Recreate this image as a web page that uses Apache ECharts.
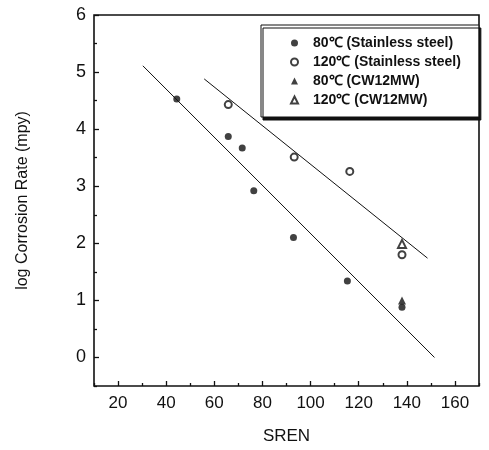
<!DOCTYPE html>
<html>
<head>
<meta charset="utf-8">
<script src="https://cdn.jsdelivr.net/npm/echarts@6/dist/echarts.min.js"></script>
<style>
  html, body { margin: 0; padding: 0; background: #fff; }
  #chart { width: 489px; height: 450px; }
</style>
</head>
<body>
<div id="chart"></div>
<script>
// Measured corrosion rates versus SREN, [SREN, log rate]
const ss80 = [[44.4, 4.53], [65.8, 3.87], [71.6, 3.67], [76.4, 2.92], [92.9, 2.10], [115.3, 1.34], [138, 0.88]];
const ss120 = [[65.8, 4.43], [93.2, 3.51], [116.3, 3.26], [138, 1.80]];
const cw80 = [[138, 1.0]];
const cw120 = [[138, 1.99]];

// Trend lines drawn through each temperature group
const fit80 = [[30.3, 5.11], [151.5, 0.0]];
const fit120 = [[55.8, 4.88], [148.6, 1.74]];

const seriesNames = ['80℃ (Stainless steel)', '120℃ (Stainless steel)', '80℃ (CW12MW)', '120℃ (CW12MW)'];

// Tick positions
const xMajor = [20, 40, 60, 80, 100, 120, 140, 160];
const xMinor = [10, 30, 50, 70, 90, 110, 130, 150, 170];
const yMajor = [0, 1, 2, 3, 4, 5, 6];
const yMinor = [-0.5, 0.5, 1.5, 2.5, 3.5, 4.5, 5.5];

const FONT = 'Liberation Sans, Arial, sans-serif';
const INK = '#111';

const chart = echarts.init(document.getElementById('chart'), null, { renderer: 'canvas' });

const xBase = { type: 'value', min: 10, max: 170, gridIndex: 0, splitLine: { show: false }, axisLine: { show: false, onZero: false } };
const yBase = { type: 'value', min: -0.5, max: 6, gridIndex: 0, splitLine: { show: false }, axisLine: { show: false, onZero: false } };

chart.setOption({
  animation: false,
  backgroundColor: '#fff',
  grid: {
    left: 94, right: 10, top: 15, bottom: 59,
    show: true, borderColor: INK, borderWidth: 1.6, backgroundColor: 'transparent'
  },
  xAxis: [
    Object.assign({}, xBase, {
      position: 'bottom',
      name: 'SREN', nameLocation: 'middle', nameGap: 42,
      nameTextStyle: { fontFamily: FONT, fontSize: 17, color: INK },
      axisTick: { show: true, inside: true, length: 5, customValues: xMajor, lineStyle: { color: INK, width: 1.3 } },
      axisLabel: { show: true, customValues: xMajor, margin: 9, fontFamily: FONT, fontSize: 17, color: INK }
    }),
    Object.assign({}, xBase, {
      position: 'bottom',
      axisTick: { show: true, inside: true, length: 3, customValues: xMinor, lineStyle: { color: INK, width: 1.3 } },
      axisLabel: { show: false }
    })
  ],
  yAxis: [
    Object.assign({}, yBase, {
      position: 'left',
      name: 'log Corrosion Rate (mpy)', nameLocation: 'middle', nameGap: 63,
      nameTextStyle: { fontFamily: FONT, fontSize: 16, color: INK },
      axisTick: { show: true, inside: true, length: 5, customValues: yMajor, lineStyle: { color: INK, width: 1.3 } },
      axisLabel: { show: true, customValues: yMajor, margin: 8, fontFamily: FONT, fontSize: 18, color: INK }
    }),
    Object.assign({}, yBase, {
      position: 'left',
      axisTick: { show: true, inside: true, length: 3, customValues: yMinor, lineStyle: { color: INK, width: 1.3 } },
      axisLabel: { show: false }
    })
  ],
  legend: {
    orient: 'vertical',
    left: 261, top: 25,
    data: seriesNames,
    itemWidth: 7, itemHeight: 7, itemGap: 5,
    padding: [11, 18, 10, 29],
    backgroundColor: '#fff',
    borderColor: INK, borderWidth: 1,
    shadowColor: INK, shadowBlur: 0, shadowOffsetX: 2, shadowOffsetY: 3,
    textStyle: { fontFamily: FONT, fontSize: 14, fontWeight: 'bold', color: INK, padding: [0, 0, 0, 10] }
  },
  series: [
    {
      type: 'line', data: fit80, xAxisIndex: 0, yAxisIndex: 0,
      symbol: 'none', silent: true, lineStyle: { color: INK, width: 1 }
    },
    {
      type: 'line', data: fit120, xAxisIndex: 0, yAxisIndex: 0,
      symbol: 'none', silent: true, lineStyle: { color: INK, width: 1 }
    },
    {
      name: seriesNames[0], type: 'scatter', data: ss80, z: 5,
      symbol: 'circle', symbolSize: 7, itemStyle: { color: INK }
    },
    {
      name: seriesNames[1], type: 'scatter', data: ss120, z: 5,
      symbol: 'emptyCircle', symbolSize: 7, itemStyle: { color: INK, borderColor: INK, borderWidth: 1.5 }
    },
    {
      name: seriesNames[2], type: 'scatter', data: cw80, z: 6,
      symbol: 'triangle', symbolSize: 8, itemStyle: { color: INK }
    },
    {
      name: seriesNames[3], type: 'scatter', data: cw120, z: 6,
      symbol: 'emptyTriangle', symbolSize: 8, itemStyle: { color: INK, borderColor: INK, borderWidth: 1.5 }
    }
  ]
});
</script>
</body>
</html>
